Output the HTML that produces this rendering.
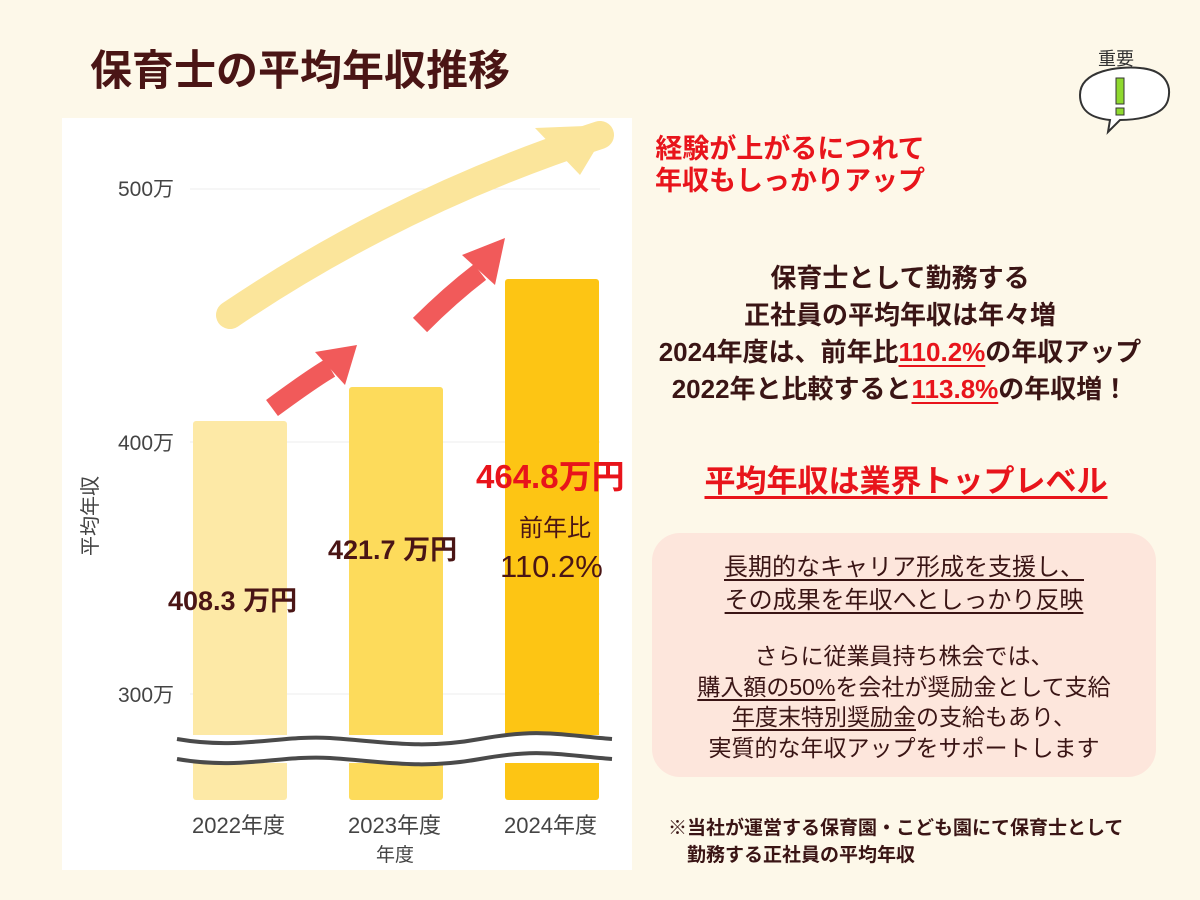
<!DOCTYPE html>
<html><head><meta charset="utf-8"><style>
body{margin:0;width:1200px;height:900px;background:#fdf8e9;position:relative;overflow:hidden;font-family:"Liberation Sans","Noto Sans CJK JP",sans-serif;}
.t{position:absolute;white-space:nowrap;}
.b{font-weight:bold;}
.u{text-decoration:underline;text-underline-offset:4px;}
.r{color:#e8141b;}
</style></head><body>
<div class="t b" style="left:90px;top:46px;font-size:42px;line-height:50px;color:#4a1515">保育士の平均年収推移</div>

<div style="position:absolute;left:62px;top:118px;width:570px;height:752px;background:#fff"></div>
<svg style="position:absolute;left:0;top:0" width="1200" height="900">
 <g stroke="#eee" stroke-width="1">
  <line x1="190" y1="189" x2="600" y2="189"/>
  <line x1="190" y1="442" x2="600" y2="442"/>
  <line x1="190" y1="694" x2="600" y2="694"/>
 </g>
 <rect x="193" y="421" width="94" height="379" fill="#fde9a6" rx="3"/>
 <rect x="349" y="387" width="94" height="413" fill="#fddb5b" rx="3"/>
 <rect x="505" y="279" width="94" height="521" fill="#fdc514" rx="3"/>
 <rect x="175" y="735" width="440" height="28" fill="#fff"/>
 <path d="M177 739 C240 750 280 735 330 738 S420 750 480 739 S560 735 612 739" stroke="#4a4a4a" stroke-width="4" fill="none"/>
 <path d="M177 759 C240 770 280 755 330 758 S420 770 480 759 S560 755 612 759" stroke="#4a4a4a" stroke-width="4" fill="none"/>
 <path d="M230 315 Q400 200 600 135" stroke="#fbe59b" stroke-width="28" stroke-linecap="round" fill="none"/>
 <polygon points="610,125 535,128 580,175" fill="#fbe59b"/>
 <path d="M272 408 Q310 380 330 368" stroke="#f15a5a" stroke-width="20" fill="none"/>
 <polygon points="357,345 315,352 345,385" fill="#f15a5a"/>
 <path d="M420 325 Q450 295 480 272" stroke="#f15a5a" stroke-width="20" fill="none"/>
 <polygon points="505,238 462,255 495,285" fill="#f15a5a"/>
 <path d="M1080 95 C1080 70 1120 66 1140 68 C1165 70 1172 85 1168 100 C1164 115 1140 120 1120 120 L1108 132 L1110 120 C1090 118 1080 110 1080 95Z" fill="#fff" stroke="#333" stroke-width="2"/>
 <rect x="1116" y="78" width="8" height="26" fill="#8fd92f" stroke="#333"/>
 <rect x="1116" y="108" width="8" height="7" fill="#8fd92f" stroke="#333"/>
</svg>
<div class="t" style="left:1098px;top:45px;font-size:18px;color:#333">重要</div>

<div class="t" style="left:118px;top:178px;font-size:21px;line-height:24px;color:#444">500万</div>
<div class="t" style="left:118px;top:432px;font-size:21px;line-height:24px;color:#444">400万</div>
<div class="t" style="left:118px;top:684px;font-size:21px;line-height:24px;color:#444">300万</div>
<div class="t" style="font-size:20px;line-height:22px;color:#444;transform:rotate(-90deg);transform-origin:left top;top:556px;left:80px">平均年収</div>
<div class="t" style="left:192px;top:813px;font-size:22px;line-height:26px;color:#444">2022年度</div>
<div class="t" style="left:348px;top:813px;font-size:22px;line-height:26px;color:#444">2023年度</div>
<div class="t" style="left:504px;top:813px;font-size:22px;line-height:26px;color:#444">2024年度</div>
<div class="t" style="left:376px;top:845px;font-size:19px;line-height:22px;color:#444">年度</div>

<div class="t b" style="left:168px;top:586px;font-size:27px;line-height:30px;color:#4a1515">408.3 万円</div>
<div class="t b" style="left:328px;top:535px;font-size:27px;line-height:30px;color:#4a1515">421.7 万円</div>
<div class="t b r" style="left:476px;top:458px;font-size:33px;line-height:38px">464.8万円</div>
<div class="t" style="left:519px;top:515px;font-size:24px;line-height:28px;color:#4a1515">前年比</div>
<div class="t" style="left:500px;top:549px;font-size:31px;line-height:36px;color:#4a1515">110.2%</div>

<div class="t b r" style="left:650px;top:133px;font-size:27px;line-height:32px;text-align:center;width:280px">経験が上がるにつれて<br>年収もしっかりアップ</div>

<div class="t b" style="left:630px;top:260px;width:540px;text-align:center;font-size:26px;line-height:37px;color:#3a1515">保育士として勤務する<br>正社員の平均年収は年々増<br>2024年度は、前年比<span class="r u">110.2%</span>の年収アップ<br>2022年と比較すると<span class="r u">113.8%</span>の年収増！</div>

<div class="t b r u" style="left:652px;top:462px;width:508px;text-align:center;font-size:31px;line-height:40px">平均年収は業界トップレベル</div>

<div style="position:absolute;left:652px;top:533px;width:504px;height:244px;background:#fde6dc;border-radius:28px"></div>
<div class="t" style="left:652px;top:551px;width:504px;text-align:center;font-size:24px;line-height:33px;color:#3a1515"><span class="u">長期的なキャリア形成を支援し、</span><br><span class="u">その成果を年収へとしっかり反映</span></div>
<div class="t" style="left:652px;top:641px;width:504px;text-align:center;font-size:23px;line-height:30.5px;color:#3a1515"><span>さらに従業員持ち株会では、</span><br><span class="u">購入額の50%</span>を会社が奨励金として支給<br><span class="u">年度末特別奨励金</span>の支給もあり、<br>実質的な年収アップをサポートします</div>

<div class="t b" style="left:668px;top:815px;font-size:19px;line-height:27px;color:#3a1515">※当社が運営する保育園・こども園にて保育士として<br>　勤務する正社員の平均年収</div>
</body></html>
